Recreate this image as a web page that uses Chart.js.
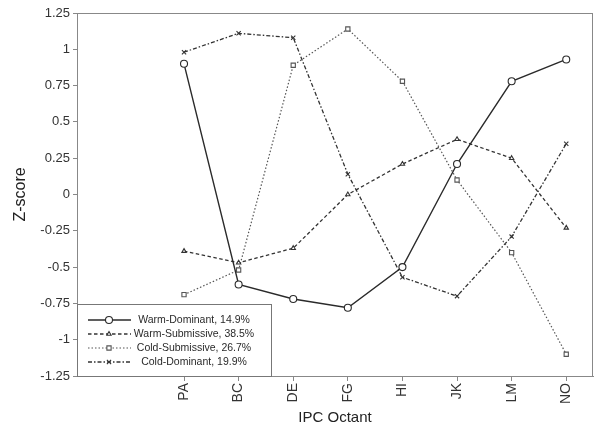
<!DOCTYPE html>
<html><head><meta charset="utf-8">
<script src="https://cdn.jsdelivr.net/npm/chart.js@4"></script>
<style>html,body{margin:0;padding:0;background:#fff}#wrap{width:600px;height:433px}</style>
</head><body><div id="wrap"><canvas id="c" width="600" height="433"></canvas></div>
<script>
const categories = ['PA','BC','DE','FG','HI','JK','LM','NO'];
const warmDominant   = [0.90, -0.62, -0.72, -0.78, -0.50, 0.21, 0.78, 0.93];
const warmSubmissive = [-0.39, -0.47, -0.37, 0.00, 0.21, 0.38, 0.25, -0.23];
const coldSubmissive = [-0.69, -0.52, 0.89, 1.14, 0.78, 0.10, -0.40, -1.10];
const coldDominant   = [0.98, 1.11, 1.08, 0.14, -0.57, -0.70, -0.29, 0.35];
const seriesNames = ['Warm-Dominant, 14.9%','Warm-Submissive, 38.5%','Cold-Submissive, 26.7%','Cold-Dominant, 19.9%'];
const yTicks = [-1.25,-1,-0.75,-0.5,-0.25,0,0.25,0.5,0.75,1,1.25];

const pts = arr => arr.map((v,i)=>({x:i,y:v}));
const FONT = '"Liberation Sans", Arial, sans-serif';

const styles = [
  {color:'#2a2a2a', width:1.4, dash:[], marker:'circle', r:3.5},
  {color:'#333', width:1.3, dash:[3.5,2.5], marker:'triangle', r:2.5},
  {color:'#555', width:1.2, dash:[1.5,2], marker:'rect', r:3},
  {color:'#333', width:1.3, dash:[4,2,1.5,2], marker:'crossRot', r:3}
];
const seriesData = [warmDominant, warmSubmissive, coldSubmissive, coldDominant];

const datasets = seriesData.map((d,i)=>({
  label: seriesNames[i],
  data: pts(d),
  borderColor: styles[i].color,
  borderWidth: styles[i].width,
  borderDash: styles[i].dash,
  pointStyle: styles[i].marker,
  pointRadius: styles[i].r,
  pointBorderWidth: 1.1,
  pointBackgroundColor: '#fff',
  pointBorderColor: styles[i].color,
  fill: false,
  tension: 0
}));

const framePlugin = {
  id: 'frame',
  afterDatasetsDraw(chart) {
    const {ctx, chartArea: a} = chart;
    ctx.save();
    ctx.strokeStyle = '#888';
    ctx.lineWidth = 1;
    ctx.strokeRect(a.left + 0.5, a.top + 0.5, a.right - a.left - 1, a.bottom - a.top);
    // legend box
    const lx = a.left + 0.5, ly = 304.5, lw = 194, lh = a.bottom - 304;
    ctx.fillStyle = '#fff';
    ctx.fillRect(lx, ly, lw, lh);
    ctx.strokeStyle = '#777';
    ctx.strokeRect(lx, ly, lw, lh);
    const rows = [320, 334, 348, 362];
    chart.data.datasets.forEach((ds, i) => {
      const y = rows[i];
      const s = styles[i];
      ctx.save();
      ctx.strokeStyle = s.color;
      ctx.lineWidth = s.width;
      ctx.setLineDash(s.dash);
      ctx.beginPath(); ctx.moveTo(88, y); ctx.lineTo(131, y); ctx.stroke();
      ctx.restore();
      ctx.save();
      ctx.fillStyle = '#fff'; ctx.strokeStyle = s.color; ctx.lineWidth = 1.1;
      Chart.helpers.drawPoint(ctx, {pointStyle: s.marker, radius: s.r, borderWidth: 1.1}, 109, y);
      ctx.restore();
      ctx.fillStyle = '#2a2a2a';
      ctx.font = '10.5px ' + FONT;
      ctx.textAlign = 'center';
      ctx.textBaseline = 'middle';
      ctx.fillText(ds.label, 194, y);
    });
    ctx.restore();
  }
};

new Chart(document.getElementById('c'), {
  type: 'line',
  data: { datasets },
  options: {
    responsive: false,
    animation: false,
    events: [],
    layout: { padding: { top: 13, right: 7, left: 0, bottom: 0 } },
    plugins: { legend: { display: false }, tooltip: { enabled: false } },
    scales: {
      x: {
        type: 'linear',
        min: -1.96, max: 7.49,
        afterBuildTicks: s => { s.ticks = categories.map((c,i)=>({value:i})); },
        afterFit: s => { s.height = 57; },
        ticks: {
          callback: v => categories[v],
          maxRotation: 90, minRotation: 90,
          color: '#333', font: { size: 14, family: FONT }, padding: 2
        },
        grid: { display: true, drawOnChartArea: false, drawTicks: true, tickLength: 5, color: '#888' },
        border: { display: true, color: '#888' },
        title: { display: true, text: 'IPC Octant', color: '#222', font: { size: 15, family: FONT }, padding: { top: 0, bottom: 6 } }
      },
      y: {
        min: -1.25, max: 1.25,
        afterBuildTicks: s => { s.ticks = yTicks.map(v=>({value:v})); },
        afterFit: s => { s.width = 77; },
        ticks: { color: '#333', font: { size: 13, family: FONT }, padding: 3, callback: v => String(v) },
        grid: { display: true, drawOnChartArea: false, drawTicks: true, tickLength: 4, color: '#888' },
        border: { display: true, color: '#888' },
        title: { display: true, text: 'Z-score', color: '#222', font: { size: 16, family: FONT }, padding: { top: 11, bottom: 0 } }
      }
    }
  },
  plugins: [framePlugin]
});
</script></body></html>
